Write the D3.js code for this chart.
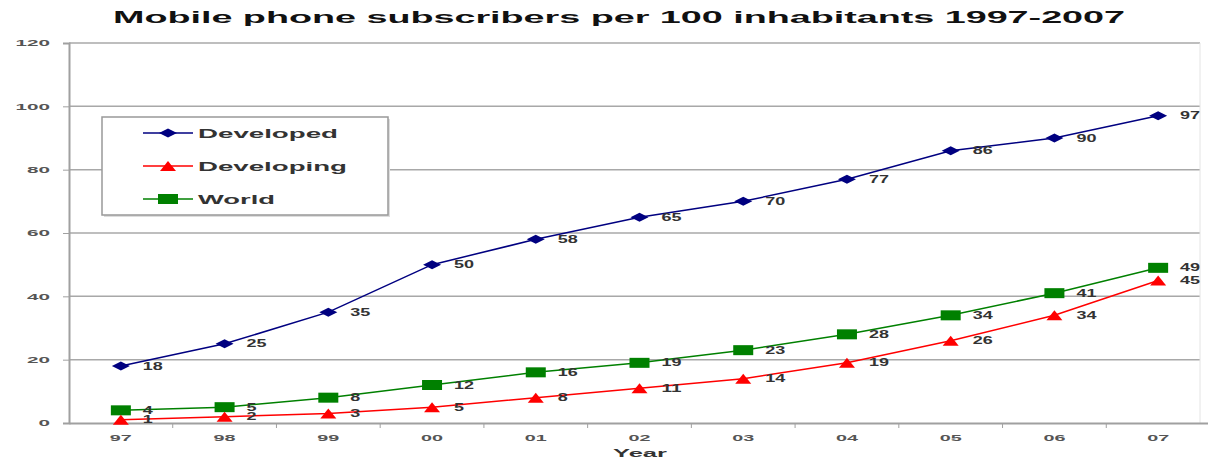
<!DOCTYPE html>
<html><head><meta charset="utf-8">
<script src="https://cdn.jsdelivr.net/npm/d3@7"></script>
<style>body{margin:0;background:#fff}svg{display:block}</style>
</head><body>
<svg id="c" width="1208" height="461"></svg>
<script>
const years = ["97","98","99","00","01","02","03","04","05","06","07"];
const developed = [18,25,35,50,58,65,70,77,86,90,97];
const developing = [1,2,3,5,8,11,14,19,26,34,45];
const world = [4,5,8,12,16,19,23,28,34,41,49];
const yTicks = [0,20,40,60,80,100,120];
const seriesNames = ["Developed","Developing","World"];
const colors = ["#000080","#ff0000","#008000"];

const svg = d3.select("#c");
const x = d3.scaleBand().domain(years).range([69, 1210]);
const y = d3.scaleLinear().domain([0,120]).range([423, 43]);
const plotRight = 1200;

// title
svg.append("text").attr("x",619).attr("y",23).attr("text-anchor","middle")
  .attr("font-family","Liberation Sans, Arial, sans-serif").attr("font-weight","bold")
  .attr("font-size",16).attr("fill","#111")
  .attr("textLength",1012).attr("lengthAdjust","spacingAndGlyphs")
  .text("Mobile phone subscribers per 100 inhabitants 1997-2007");

// gridlines
svg.append("g").selectAll("line").data(yTicks.filter(d=>d>0)).join("line")
  .attr("x1",69).attr("x2",plotRight).attr("y1",d=>y(d)).attr("y2",d=>y(d))
  .attr("stroke","#a8a8a8").attr("stroke-width",1.5);
svg.append("line").attr("x1",plotRight).attr("x2",plotRight).attr("y1",y(120)).attr("y2",y(0))
  .attr("stroke","#e4e4e4").attr("stroke-width",1);

// y axis
const yAxis = svg.append("g").attr("transform","translate(69,0)")
  .call(d3.axisLeft(y).tickValues(yTicks).tickSize(6).tickPadding(13).tickFormat(d3.format("d")));
yAxis.select(".domain").attr("stroke","#a0a0a0").attr("stroke-width",2);
yAxis.selectAll(".tick line").attr("stroke","#a0a0a0");
yAxis.selectAll("text").attr("font-family","Liberation Sans, Arial, sans-serif")
  .attr("font-weight","bold").attr("font-size",9).attr("fill","#555")
  .attr("textLength",d=>String(d).length*11.5).attr("lengthAdjust","spacingAndGlyphs");

// x axis
const xAxis = svg.append("g").attr("transform",`translate(0,${y(0)})`)
  .call(d3.axisBottom(x).tickSize(0).tickPadding(12));
xAxis.select(".domain").attr("stroke","#a0a0a0").attr("stroke-width",2);
xAxis.selectAll("text").attr("font-family","Liberation Sans, Arial, sans-serif")
  .attr("font-weight","bold").attr("font-size",9).attr("fill","#555")
  .attr("textLength",22).attr("lengthAdjust","spacingAndGlyphs");
// band boundary ticks
svg.append("g").selectAll("line").data(years.slice(1)).join("line")
  .attr("x1",d=>x(d)).attr("x2",d=>x(d)).attr("y1",y(0)).attr("y2",y(0)+5)
  .attr("stroke","#a0a0a0").attr("stroke-width",1);

svg.append("text").attr("x",640).attr("y",457).attr("text-anchor","middle")
  .attr("font-family","Liberation Sans, Arial, sans-serif").attr("font-weight","bold")
  .attr("font-size",10).attr("fill","#333")
  .attr("textLength",54).attr("lengthAdjust","spacingAndGlyphs").text("Year");

// markers
function marker(g, i, cx, cy){
  if(i===0){
    g.append("path").attr("d",`M${cx-9},${cy} L${cx},${cy-4.5} L${cx+9},${cy} L${cx},${cy+4.5} Z`)
      .attr("fill",colors[0]);
  } else if(i===1){
    g.append("path").attr("d",`M${cx-8},${cy+5} L${cx},${cy-5} L${cx+8},${cy+5} Z`)
      .attr("fill",colors[1]);
  } else {
    g.append("rect").attr("x",cx-10).attr("y",cy-5).attr("width",20).attr("height",10)
      .attr("fill",colors[2]);
  }
}

const data = [developed, developing, world];
const cx = d => x(d) + x.bandwidth()/2;
const line = d3.line().x((d,j)=>cx(years[j])).y(d=>y(d));
const order = [2,1,0];
order.forEach(i=>{
  svg.append("path").datum(data[i]).attr("d",line).attr("fill","none")
    .attr("stroke",colors[i]).attr("stroke-width",1.5);
});
order.forEach(i=>{
  const g = svg.append("g");
  data[i].forEach((v,j)=>marker(g,i,cx(years[j]),y(v)));
  g.selectAll("text").data(data[i]).join("text")
    .attr("x",(d,j)=>cx(years[j])+22).attr("y",d=>y(d)+3.5)
    .attr("font-family","Liberation Sans, Arial, sans-serif").attr("font-weight","bold")
    .attr("font-size",10).attr("fill","#333")
    .attr("textLength",d=>String(d).length*10).attr("lengthAdjust","spacingAndGlyphs")
    .text(d=>d);
});

// legend
const lg = svg.append("g");
lg.append("rect").attr("x",104).attr("y",119).attr("width",286).attr("height",98).attr("fill","#ddd");
lg.append("rect").attr("x",102).attr("y",117).attr("width",286).attr("height",98)
  .attr("fill","#fff").attr("stroke","#999").attr("stroke-width",1.5);
const legW = [140,149,77];
seriesNames.forEach((n,i)=>{
  const ly = 133 + i*33;
  lg.append("line").attr("x1",143).attr("x2",193).attr("y1",ly).attr("y2",ly)
    .attr("stroke",colors[i]).attr("stroke-width",1.5);
  marker(lg,i,168,ly);
  lg.append("text").attr("x",198).attr("y",ly+5)
    .attr("font-family","Liberation Sans, Arial, sans-serif").attr("font-weight","bold")
    .attr("font-size",13).attr("fill","#333")
    .attr("textLength",legW[i]).attr("lengthAdjust","spacingAndGlyphs").text(n);
});
</script>
</body></html>
